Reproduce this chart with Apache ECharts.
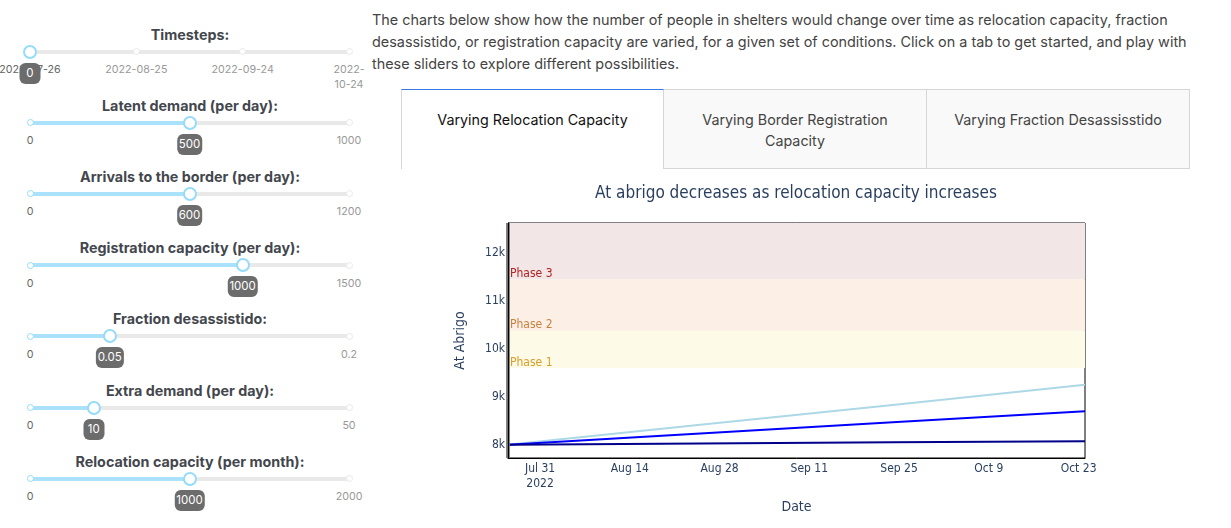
<!DOCTYPE html>
<html>
<head>
<meta charset="utf-8">
<script src="https://cdn.jsdelivr.net/npm/echarts@6/dist/echarts.min.js"></script>
<style>
  body { margin: 0; width: 1231px; height: 528px; overflow: hidden; background: #fff;
         font-family: Inter, "Noto Sans", sans-serif; position: relative; }
  .abs { position: absolute; }
  .sl-title { left: 30px; width: 320px; text-align: center; font-weight: 700; font-size: 14.3px;
              line-height: 20px; color: #43474d; }
  .rail { left: 30px; width: 319px; height: 4px; border-radius: 2px; background: #e9e9e9; }
  .track { left: 30px; height: 4px; border-radius: 2px; background: #abe2fb; }
  .dot { width: 7px; height: 7px; box-sizing: border-box; border: 1.5px solid #e9e9e9;
         border-radius: 50%; background: #fff; }
  .dot.on { border-color: #96dbfa; }
  .handle { width: 14px; height: 14px; box-sizing: border-box; border: 2px solid #96dbfa;
            border-radius: 50%; background: #fff; }
  .mark { font-size: 10.7px; line-height: 15px; color: #999; text-align: center; }
  .mark.on { color: #666; }
  .tip { height: 21px; min-width: 21px; padding: 0 2px; box-sizing: border-box; border-radius: 6px;
         background: #6c6c6c; color: #fff; font-size: 11.5px; line-height: 21px; text-align: center;
         transform: translateX(-50%); }
  #intro { left: 372px; top: 9px; font-size: 14.4px; line-height: 22px; color: #444; white-space: nowrap; }
  .tab { top: 89px; height: 80px; width: 263px; box-sizing: border-box; padding: 19px 18px 0;
         font-size: 14.3px; line-height: 21px; text-align: center; color: #444;
         background: #f9f9f9; border: 1px solid #d6d6d6; }
  .tab.sel { background: #fff; color: #111; border-bottom: none; border-top: 1px solid #3b78e7; }
  #chart { left: 401px; top: 172px; width: 790px; height: 356px; }
</style>
</head>
<body>
<div id="panel"></div>
<div id="intro" class="abs">The charts below show how the number of people in shelters would change over time as relocation capacity, fraction<br>desassistido, or registration capacity are varied, for a given set of conditions. Click on a tab to get started, and play with<br>these sliders to explore different possibilities.</div>
<div id="tabs"></div>
<div id="chart" class="abs"></div>
<script>
// ---- sliders ----
const sliderNames = ['Timesteps:', 'Latent demand (per day):', 'Arrivals to the border (per day):',
  'Registration capacity (per day):', 'Fraction desassistido:', 'Extra demand (per day):',
  'Relocation capacity (per month):']
const sliderMin = [0, 0, 0, 0, 0, 0, 0]
const sliderMax = [90, 1000, 1200, 1500, 0.2, 50, 2000]
const sliderValues = [0, 500, 600, 1000, 0.05, 10, 1000]
const timestepMarks = [0, 30, 60, 90]
const timestepLabels = ['2022-07-26', '2022-08-25', '2022-09-24', '2022-10-24']

// ---- tabs ----
const tabNames = ['Varying Relocation Capacity', 'Varying Border Registration Capacity',
  'Varying Fraction Desassisstido']

// ---- chart data ----
const chartTitle = 'At abrigo decreases as relocation capacity increases'
const dates = ['2022-07-26', '2022-08-25', '2022-09-24', '2022-10-24']
const lowRelocation = [8000, 8415, 8830, 9250]
const midRelocation = [8000, 8235, 8470, 8700]
const highRelocation = [8000, 8025, 8050, 8070]
const xTickDates = ['2022-07-31', '2022-08-14', '2022-08-28', '2022-09-11', '2022-09-25', '2022-10-09', '2022-10-23']
const yTicks = [8000, 9000, 10000, 11000, 12000]
const yRange = [7723, 12625]
const phaseNames = ['Phase 1', 'Phase 2', 'Phase 3']
const phaseFrom = [9600, 10380, 11450]
const phaseTo = [10380, 11450, 12625]
const currentDate = dates[0]

const RAIL_X = 30, RAIL_W = 319, PANEL_RIGHT = 372

const el = (cls, css, html) => {
  const d = document.createElement('div')
  d.className = 'abs ' + cls
  Object.assign(d.style, css)
  if (html !== undefined) d.innerHTML = html
  return d
}

const panel = document.getElementById('panel')
sliderNames.forEach((name, i) => {
  const y = 51.5 + i * 71.2
  const frac = (sliderValues[i] - sliderMin[i]) / (sliderMax[i] - sliderMin[i])
  const hx = RAIL_X + frac * RAIL_W
  panel.appendChild(el('sl-title', { top: (y - 27) + 'px' }, name))
  panel.appendChild(el('rail', { top: (y - 2) + 'px' }))
  panel.appendChild(el('track', { top: (y - 2) + 'px', width: (frac * RAIL_W) + 'px' }))

  let marks, labels
  if (i === 0) {
    marks = timestepMarks.map(m => (m - sliderMin[0]) / (sliderMax[0] - sliderMin[0]))
    labels = timestepLabels
  } else {
    marks = [0, 1]
    labels = [String(sliderMin[i]), String(sliderMax[i])]
  }
  marks.forEach((f, k) => {
    const x = RAIL_X + f * RAIL_W
    const on = f <= frac
    panel.appendChild(el('dot' + (on ? ' on' : ''), { left: (x - 3.5) + 'px', top: (y - 3.5) + 'px' }))
    const maxW = Math.min(140, 2 * (PANEL_RIGHT - x))
    panel.appendChild(el('mark' + (on ? ' on' : ''),
      { left: (x - maxW / 2) + 'px', width: maxW + 'px', top: (y + 10.5) + 'px' }, labels[k]))
  })
  panel.appendChild(el('handle', { left: (hx - 7) + 'px', top: (y - 7) + 'px' }))
  panel.appendChild(el('tip', { left: hx + 'px', top: (y + 11) + 'px' }, String(sliderValues[i])))
})

const tabs = document.getElementById('tabs')
tabNames.forEach((name, i) => {
  tabs.appendChild(el('tab' + (i === 0 ? ' sel' : ''), {
    left: (401 + i * 263) + 'px',
    borderLeft: i === 0 ? '1px solid #d6d6d6' : 'none'
  }, name))
})

// ---- chart ----
const ts = s => { const [y, m, d] = s.split('-').map(Number); return new Date(y, m - 1, d).getTime() }
const months = ['Jan', 'Feb', 'Mar', 'Apr', 'May', 'Jun', 'Jul', 'Aug', 'Sep', 'Oct', 'Nov', 'Dec']
const plotFont = '"DejaVu Sans Condensed", "DejaVu Sans", Verdana, sans-serif'
const ink = '#2a3f5f'
const phaseFill = ['#fefae8', '#fcf0e6', '#f3e6e6']
const phaseInk = ['#d4a02a', '#c8803f', '#b22222']

const seriesOf = (values, color) => ({
  type: 'line',
  data: dates.map((d, k) => [ts(d), values[k]]),
  showSymbol: false,
  lineStyle: { color, width: 2 },
  itemStyle: { color },
  z: 3
})

const chart = echarts.init(document.getElementById('chart'))
const bands = seriesOf(lowRelocation, '#add8e6')
bands.markArea = {
  silent: true,
  data: phaseNames.map((p, k) => [
    { yAxis: phaseFrom[k], name: p, itemStyle: { color: phaseFill[k] },
      label: { show: true, color: phaseInk[k] } },
    { yAxis: phaseTo[k] }
  ]),
  label: { show: true, position: 'insideBottomLeft', distance: 2, offset: [0, 2.5],
    fontFamily: plotFont, fontSize: 12 }
}
bands.markLine = {
  silent: true,
  symbol: ['none', 'none'],
  label: { show: false },
  lineStyle: { color: 'rgba(110,110,110,0.85)', width: 4, type: 'solid' },
  data: [{ xAxis: ts(currentDate) }]
}

chart.setOption({
  animation: false,
  title: {
    text: chartTitle, left: 'center', top: 8,
    textStyle: { color: ink, fontFamily: plotFont, fontSize: 17, fontWeight: 'normal' }
  },
  grid: { left: 107, right: 106, top: 51, bottom: 70, show: true, borderColor: '#000', borderWidth: 1 },
  xAxis: {
    type: 'value',
    min: ts(dates[0]), max: ts(dates[dates.length - 1]),
    name: 'Date', nameLocation: 'middle', nameGap: 42,
    nameTextStyle: { color: ink, fontFamily: plotFont, fontSize: 14 },
    axisLine: { show: true, lineStyle: { color: '#000', width: 1 } },
    axisTick: { show: false },
    splitLine: { show: false },
    axisLabel: {
      customValues: xTickDates.map(ts),
      color: ink, fontFamily: plotFont, fontSize: 12, margin: 3.5, lineHeight: 15,
      formatter: v => {
        const d = new Date(v)
        const s = months[d.getMonth()] + ' ' + d.getDate()
        return v === ts(xTickDates[0]) ? s + '\n' + d.getFullYear() : s
      }
    }
  },
  yAxis: {
    type: 'value', min: yRange[0], max: yRange[1], z: 5,
    name: 'At Abrigo', nameLocation: 'middle', nameGap: 41,
    nameTextStyle: { color: ink, fontFamily: plotFont, fontSize: 14 },
    axisLine: { show: true, lineStyle: { color: '#000', width: 1 } },
    axisTick: { show: false },
    splitLine: { show: false },
    axisLabel: {
      customValues: yTicks,
      color: ink, fontFamily: plotFont, fontSize: 12, margin: 3,
      formatter: v => (v / 1000) + 'k'
    }
  },
  series: [bands, seriesOf(midRelocation, '#0000ff'), seriesOf(highRelocation, '#00008b')]
})
</script>
</body>
</html>
